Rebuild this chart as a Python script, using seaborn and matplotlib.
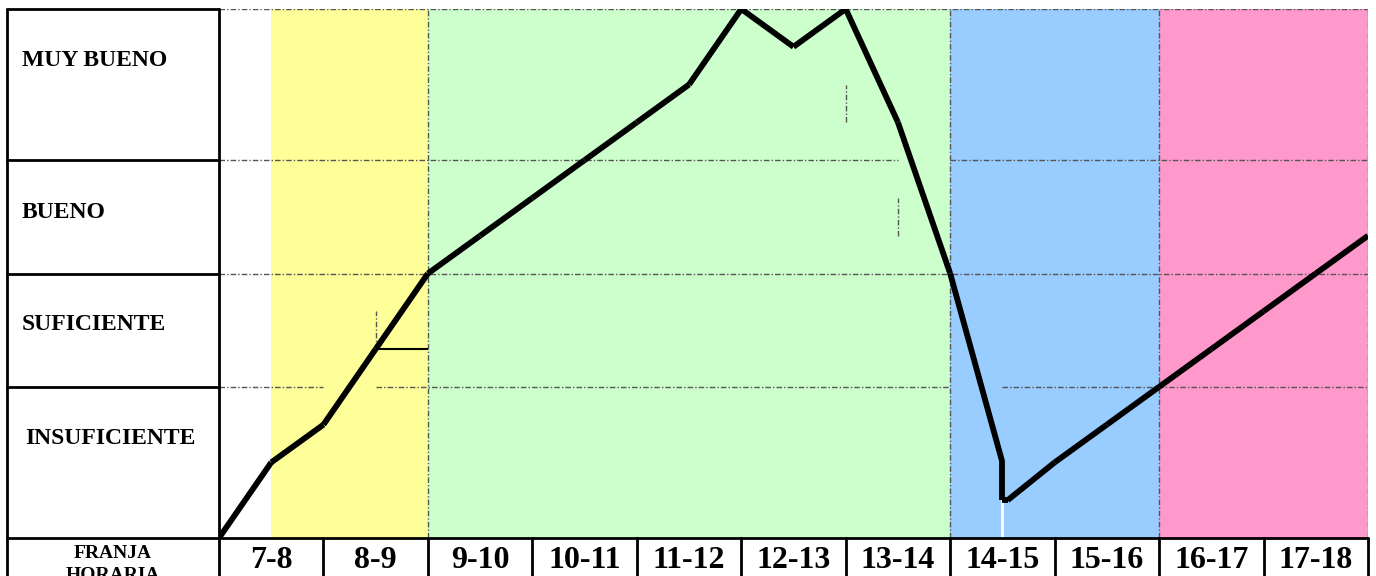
import numpy as np
import pandas as pd
import matplotlib.pyplot as plt
import seaborn as sns

# Data
hours = [7.0, 7.5, 8.0, 8.5, 9.0, 9.5, 10.0, 10.5, 11.0, 11.5, 12.0, 12.5, 13.0,
         13.5, 14.0, 14.5, 14.5, 14.55, 15.0, 15.5, 16.0, 16.5, 17.0, 17.5, 18.0]
score = [0, 2, 3, 5, 7, 8, 9, 10, 11, 12, 14, 13, 14,
         11, 7, 2, 1, 1, 2, 3, 4, 5, 6, 7, 8]
levels = ["INSUFICIENTE", "SUFICIENTE", "BUENO", "MUY BUENO"]
level_bounds = [0, 4, 7, 10, 14]
slots = ["7-8", "8-9", "9-10", "10-11", "11-12", "12-13", "13-14",
         "14-15", "15-16", "16-17", "17-18"]
band_start = [7.5, 9, 14, 16]
band_end = [9, 14, 16, 18]
band_colors = ["#FFFF99", "#CCFFCC", "#99CCFF", "#FF99CC"]

# one row per segment end, so each segment is its own line (gives the notched joins)
rows = []
for i in range(len(hours) - 1):
    rows.append({"seg": i, "hora": hours[i], "nivel": score[i]})
    rows.append({"seg": i, "hora": hours[i + 1], "nivel": score[i + 1]})
seg_df = pd.DataFrame(rows)

sns.set_style("white")
plt.rcParams["font.family"] = ["Liberation Serif", "DejaVu Serif"]
plt.rcParams["text.color"] = "black"

W, H = 1376, 576
fig = plt.figure(figsize=(W / 100, H / 100), dpi=100)

# chart area
ax = fig.add_axes([219 / W, 1 - 538 / H, (1368 - 219) / W, (538 - 9) / H])

for s, e, c in zip(band_start, band_end, band_colors):
    ax.axvspan(s, e, color=c, lw=0, zorder=0)

grid = dict(color="#555555", lw=1.0, ls=(0, (4, 1.5, 1, 1.5)), zorder=1)
ax.hlines(14, 7, 18, **grid)
ax.hlines(10, 7, 13.5, **grid)
ax.hlines(10, 14, 18, **grid)
ax.hlines(7, 7, 18, **grid)
ax.hlines(4, 7, 8, **grid)
ax.hlines(4, 8.5, 14, **grid)
ax.hlines(4, 14.5, 18, **grid)
ax.vlines([9, 14, 16, 18], 0, 14, **grid)
ax.vlines(8.5, 5, 6, **grid)
ax.vlines(13, 11, 12, **grid)
ax.vlines(13.5, 8, 9, **grid)
ax.hlines(5, 8.5, 9, color="black", lw=1.5, zorder=2)
ax.vlines(14.5, 0, 1, color="white", lw=2, zorder=2)

sns.lineplot(data=seg_df, x="hora", y="nivel", units="seg", estimator=None,
             sort=False, color="black", lw=4.2, solid_capstyle="butt",
             legend=False, ax=ax, zorder=3)
ax.set_xlim(7, 18)
ax.set_ylim(0, 14)
ax.axis("off")

# table frame (left label column and bottom time row)
ov = fig.add_axes([0, 0, 1, 1], zorder=5)
ov.set_xlim(0, W)
ov.set_ylim(H, 0)
ov.axis("off")
ov.patch.set_alpha(0)

def to_px(y):
    return 538 - (538 - 9) * y / 14

lw_tab = 2.0
ov.plot([7, 219], [9, 9], color="black", lw=lw_tab)
ov.plot([7, 7], [9, H], color="black", lw=lw_tab)
ov.plot([219, 219], [9, H], color="black", lw=lw_tab)
for b in level_bounds[1:-1]:
    ov.plot([7, 219], [to_px(b), to_px(b)], color="black", lw=lw_tab)
ov.plot([7, 1368], [538, 538], color="black", lw=lw_tab)
col_w = (1368 - 219) / 11
for i in range(1, 12):
    xx = 219 + i * col_w
    ov.plot([xx, xx], [538, H], color="black", lw=lw_tab)

label_y = [439, 325, 212, 60]
label_x = [25, 22, 22, 22]
for lab, yy, xx in zip(levels, label_y, label_x):
    ov.text(xx, yy, lab, fontsize=17, fontweight="bold", ha="left", va="center")

for i, s in enumerate(slots):
    ov.text(219 + (i + 0.5) * col_w, 561, s, fontsize=23, fontweight="bold",
            ha="center", va="center")
ov.text(113, 554, "FRANJA", fontsize=14, fontweight="bold", ha="center", va="center")
ov.text(113, 576, "HORARIA", fontsize=14, fontweight="bold", ha="center", va="center")

fig.savefig("out.png", dpi=100)
